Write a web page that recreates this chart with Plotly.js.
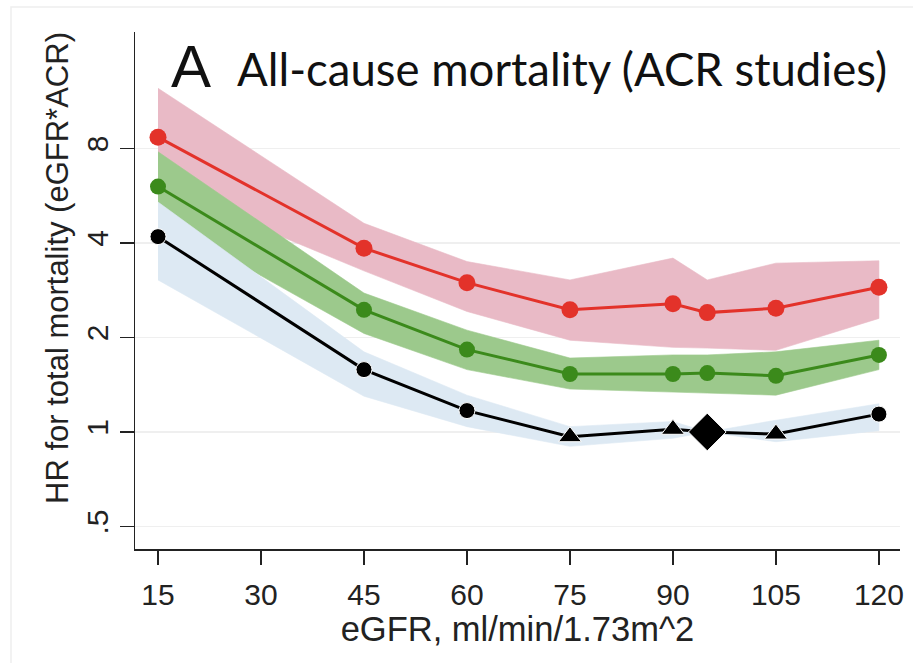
<!DOCTYPE html>
<html>
<head>
<meta charset="utf-8">
<script src="https://cdn.plot.ly/plotly-3.0.1.min.js"></script>
<style>
html,body{margin:0;padding:0;background:#fff;}
#chart{width:913px;height:663px;}
</style>
</head>
<body>
<div id="chart"></div>
<script>
// eGFR categories (ml/min/1.73m^2)
const egfr = [15, 45, 60, 75, 90, 95, 105, 120];

// Highest ACR group (red)
const redHR = [8.69, 3.85, 2.99, 2.45, 2.56, 2.40, 2.48, 2.89];
const redLo = [6.10, 3.26, 2.42, 1.96, 1.86, 1.85, 1.82, 2.30];
const redHi = [12.44, 4.62, 3.49, 3.05, 3.58, 3.05, 3.45, 3.51];

// Middle ACR group (green)
const greenHR = [6.05, 2.45, 1.83, 1.53, 1.53, 1.54, 1.51, 1.76];
const greenLo = [4.80, 2.06, 1.58, 1.37, 1.34, 1.33, 1.31, 1.58];
const greenHi = [7.81, 2.77, 2.11, 1.72, 1.76, 1.76, 1.80, 1.96];

// Lowest ACR group (black, blue band)
const blackHR = [4.19, 1.58, 1.17, 0.966, 1.02, 1.00, 0.985, 1.14];
const blackLo = [3.05, 1.30, 1.04, 0.90, 0.955, 1.00, 0.931, 1.01];
const blackHi = [5.40, 1.80, 1.31, 1.04, 1.08, 1.00, 1.09, 1.23];
// significance status of each black point: sig / ns / ref
const blackStatus = ['sig', 'sig', 'sig', 'ns', 'ns', 'ref', 'ns', 'sig'];

// Axis ticks
const xTicks = [15, 30, 45, 60, 75, 90, 105, 120];
const yTickVals = [0.5, 1, 2, 4, 8];
const yTickText = ['.5', '1', '2', '4', '8'];

function band(lo, hi, color) {
  return {
    x: egfr.concat(egfr.slice().reverse()),
    y: hi.concat(lo.slice().reverse()),
    type: 'scatter', mode: 'lines', fill: 'toself',
    fillcolor: color, line: {width: 0.6, color: color},
    hoverinfo: 'skip', showlegend: false
  };
}

const symbolMap = {sig: 'circle', ns: 'triangle-up', ref: 'diamond'};
const sizeMap = {sig: 16, ns: 20, ref: 29};

const traces = [
  band(redLo, redHi, '#e9bac6'),
  band(greenLo, greenHi, '#9cc98c'),
  band(blackLo, blackHi, '#dde9f3'),
  {x: egfr, y: redHR, type: 'scatter', mode: 'lines+markers',
   line: {color: '#e3322a', width: 3},
   marker: {color: '#e3322a', size: 17, symbol: 'circle', opacity: 1}, showlegend: false},
  {x: egfr, y: greenHR, type: 'scatter', mode: 'lines+markers',
   line: {color: '#3b8a1b', width: 3},
   marker: {color: '#3b8a1b', size: 16, symbol: 'circle', opacity: 1}, showlegend: false},
  {x: egfr, y: blackHR, type: 'scatter', mode: 'lines+markers',
   line: {color: '#000000', width: 3},
   marker: {color: '#000000', opacity: 1,
            size: blackStatus.map(s => sizeMap[s]),
            symbol: blackStatus.map(s => symbolMap[s])}, showlegend: false}
];

const layout = {
  width: 913, height: 663,
  margin: {l: 135, r: 13, t: 32, b: 114},
  paper_bgcolor: '#ffffff', plot_bgcolor: '#ffffff',
  font: {family: 'Liberation Sans, Arial, sans-serif', color: '#222'},
  xaxis: {
    range: [11.65, 123.07],
    tickvals: xTicks, ticktext: xTicks.map(String),
    ticks: 'outside', ticklen: 14, tickwidth: 1.5, tickcolor: '#222',
    showline: true, linecolor: '#222', linewidth: 1.5,
    showgrid: false, zeroline: false,
    tickfont: {size: 30, color: '#222'},
    ticklabelstandoff: 4,
    title: {text: 'eGFR, ml/min/1.73m^2', font: {size: 34.5, color: '#222'}, standoff: 2}
  },
  yaxis: {
    type: 'log', range: [-0.3727, 1.274],
    tickvals: yTickVals, ticktext: yTickText, tickangle: -90,
    ticks: 'outside', ticklen: 14, tickwidth: 1.5, tickcolor: '#222',
    showline: true, linecolor: '#222', linewidth: 1.5,
    showgrid: true, gridcolor: '#efefef', gridwidth: 1.5, zeroline: false,
    tickfont: {size: 30, color: '#222'}
  },
  shapes: [
    {type: 'line', xref: 'paper', yref: 'y', x0: 0, x1: 1, y0: 1, y1: 1,
     line: {color: '#9a9a9a', width: 1.5}, layer: 'below'},
    {type: 'rect', xref: 'paper', yref: 'paper',
     x0: -124 / 765, x1: 1 + 20 / 765, y0: -120 / 517, y1: 1 + 25 / 517,
     line: {color: '#eeeeee', width: 1.5}, layer: 'below'}
  ],
  annotations: [
    {text: 'HR for total mortality (eGFR*ACR)', xref: 'paper', yref: 'paper',
     x: (57 - 135) / 765, y: (549 - 268) / 517, xanchor: 'center', yanchor: 'middle',
     textangle: -90, showarrow: false,
     font: {family: 'Liberation Sans, Arial, sans-serif', size: 31, color: '#222'}},
    {text: 'A', xref: 'paper', yref: 'paper', x: 0.045, y: 0.933,
     xanchor: 'left', yanchor: 'middle', showarrow: false,
     font: {family: 'Liberation Sans, Arial, sans-serif', size: 60, color: '#111'}},
    {text: 'All-cause mortality (ACR studies)', xref: 'paper', yref: 'paper',
     x: 0.131, y: 0.930, xanchor: 'left', yanchor: 'middle', showarrow: false,
     font: {family: 'Lato, Open Sans, sans-serif', size: 45.5, color: '#111'}}
  ]
};

Plotly.newPlot('chart', traces, layout, {displayModeBar: false, staticPlot: true});
</script>
</body>
</html>
